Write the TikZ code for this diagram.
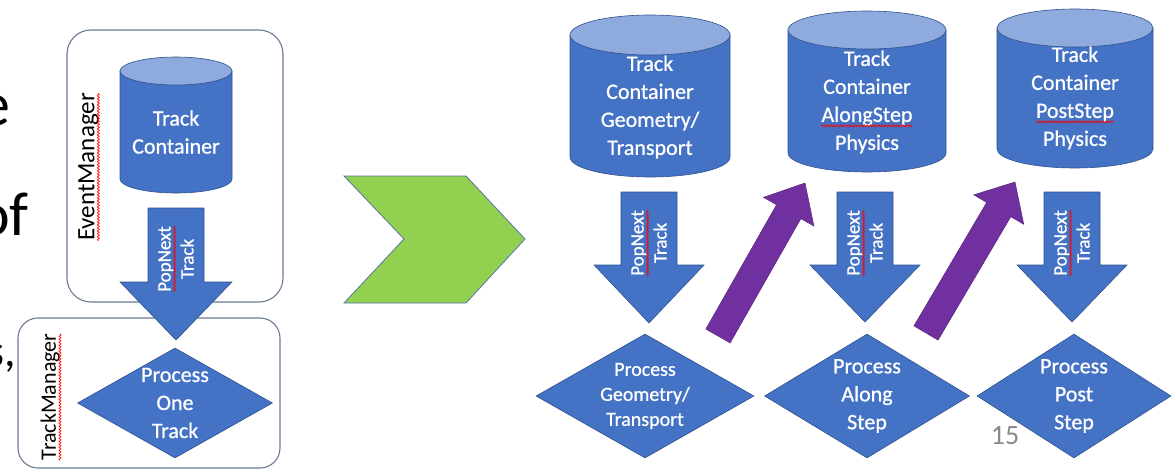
\documentclass[tikz,border=0pt]{standalone}
\usepackage{fontspec}
\setmainfont{Carlito}
\newfontfamily\wfont{Carlito}[FakeBold=0.8]
\usetikzlibrary{shapes.geometric,calc,decorations.pathmorphing}
\definecolor{blu}{HTML}{4472C4}
\definecolor{blutop}{HTML}{8FAADC}
\definecolor{bluedge}{HTML}{2F528F}
\definecolor{purp}{HTML}{7030A0}
\definecolor{grn}{HTML}{92D050}
\definecolor{boxc}{HTML}{6A7A93}
\definecolor{pgnum}{HTML}{898989}
\newcommand\redwave[1]{\tikz[baseline=(rw.base)]{\node[inner sep=0pt,outer sep=0pt,anchor=base] (rw) at (0,0) {#1};
  \draw[red,line width=0.7pt,decorate,decoration={snake,amplitude=1pt,segment length=3pt}]
     ([yshift=-4pt]rw.base west) -- ([yshift=-4pt]rw.base east);}}
% cylinder: name, cx, top, bottom, half width, ry
\newcommand\mycyl[6]{%
  \filldraw[fill=blu,draw=bluedge,line width=0.6pt] ({#2-#5},{#3+#6}) -- ({#2-#5},{#4-#6})
     arc[start angle=180,end angle=360,x radius=#5pt,y radius=#6pt] -- ({#2+#5},{#3+#6}) -- cycle;
  \filldraw[fill=blutop,draw=bluedge,line width=0.6pt] (#2,{#3+#6}) ellipse[x radius=#5pt,y radius=#6pt];
  \coordinate (#1) at (#2,{(#3+#4)/2});
}
% block arrow: style, tail, head, shaft half, head half, head length
\newcommand\blk[6]{%
  \path ($(#3)!#6pt!(#2)$) coordinate (bn);
  \filldraw[#1] ($(#2)!#4pt!90:(#3)$) -- ($(bn)!#4pt!90:(#3)$) -- ($(bn)!#5pt!90:(#3)$) -- (#3)
     -- ($(bn)!#5pt!-90:(#3)$) -- ($(bn)!#4pt!-90:(#3)$) -- ($(#2)!#4pt!-90:(#3)$) -- cycle;
}
\tikzset{
  txt/.style={text=white,font=\wfont\fontsize{22}{28}\selectfont,align=center,inner sep=0pt},
  poptxt/.style={text=white,font=\wfont\fontsize{19}{23}\selectfont,align=center,inner sep=0pt,rotate=90},
  mgr/.style={rounded corners=24pt,draw=boxc,line width=1.1pt},
  mgrtxt/.style={text=black,inner sep=0pt,rotate=90},
  dia/.style={diamond,fill=blu,draw=bluedge,line width=0.6pt,inner sep=0pt},
  downarrow/.style={fill=blu,draw=bluedge,line width=0.6pt},
  purparrow/.style={fill=purp,draw=purp!80!black,line width=0.5pt},
  frag/.style={anchor=base east,inner sep=0pt,text=black}
}
\begin{document}
\begin{tikzpicture}[x=1pt,y=-1pt]
\useasboundingbox (0,0) rectangle (1171,469);
\clip (0,0) rectangle (1171,469);

% cut-off slide text on the left
\node[frag,font=\fontsize{62}{62}\selectfont] (f1) at (11,125) {e};
\node[frag,font=\fontsize{62}{62}\selectfont] (f2) at (29,235) {of};
\node[frag,font=\fontsize{46}{46}\selectfont] (f3) at (16,366) {s,};

% manager boxes
\draw[mgr] (67,30) rectangle (283,302);
\draw[mgr,rounded corners=20pt] (18,318) rectangle (280,468);
\node[mgrtxt,font=\fontsize{25}{30}\selectfont] (em) at (89,167) {\redwave{EventManager}};
\node[mgrtxt,font=\fontsize{22}{28}\selectfont] (tm) at (51,397) {\redwave{TrackManager}};

% cylinders
\mycyl{c1}{176}{57}{193}{56}{14}
\mycyl{c2}{650}{15}{177}{80}{20}
\mycyl{c3}{867}{11}{172}{79}{19}
\mycyl{c4}{1075}{9}{168}{78}{19}

% down arrows
\coordinate (a1t) at (176,208); \coordinate (a1h) at (176,340);
\coordinate (a2t) at (649,192); \coordinate (a2h) at (649,323);
\coordinate (a3t) at (865,192); \coordinate (a3h) at (865,322);
\coordinate (a4t) at (1072,192); \coordinate (a4h) at (1072,322);
\blk{downarrow}{a1t}{a1h}{28}{56}{58}
\blk{downarrow}{a2t}{a2h}{28}{55}{58}
\blk{downarrow}{a3t}{a3h}{28}{55}{57}
\blk{downarrow}{a4t}{a4h}{28}{55}{57}

% purple arrows
\coordinate (p1t) at (718,336); \coordinate (p1h) at (805,183);
\coordinate (p2t) at (926,333); \coordinate (p2h) at (1015,182);
\blk{purparrow}{p1t}{p1h}{14}{29}{33}
\blk{purparrow}{p2t}{p2h}{14}{29}{32}

% green chevron
\filldraw[fill=grn,draw=bluedge!80,line width=0.8pt]
  (344,176) -- (466,176) -- (525,239) -- (466,303) -- (344,303) -- (404,239) -- cycle;

% diamonds
\node[dia,minimum width=195pt,minimum height=110pt] (d1) at (175,403) {};
\node[dia,minimum width=218pt,minimum height=124pt] (d2) at (645,396) {};
\node[dia,minimum width=205pt,minimum height=124pt] (d3) at (867,396) {};
\node[dia,minimum width=194pt,minimum height=124pt] (d4) at (1074,396) {};

% texts
\node[txt] (c1t) at (176,132) {Track\\Container};
\node[txt] (c2t) at (650,107) {Track\\Container\\Geometry/\\Transport};
\node[txt] (c3t) at (867,102) {Track\\Container\\\redwave{AlongStep}\\Physics};
\node[txt] (c4t) at (1075,98) {Track\\Container\\\redwave{PostStep}\\Physics};

\node[poptxt] (p1) at (176,259) {\redwave{PopNext}\\Track};
\node[poptxt] (p2) at (649,243) {\redwave{PopNext}\\Track};
\node[poptxt] (p3) at (865,243) {\redwave{PopNext}\\Track};
\node[poptxt] (p4) at (1072,243) {\redwave{PopNext}\\Track};

\node[txt] (d1t) at (d1) {Process\\One\\Track};
\node[txt,font=\wfont\fontsize{20}{25}\selectfont] (d2t) at (d2) {Process\\Geometry/\\Transport};
\node[txt] (d3t) at (d3) {Process\\Along\\Step};
\node[txt] (d4t) at (d4) {Process\\Post\\Step};

\node[inner sep=0pt,text=pgnum,font=\fontsize{28}{28}\selectfont] (pg) at (1005,436) {15};
\end{tikzpicture}
\end{document}
